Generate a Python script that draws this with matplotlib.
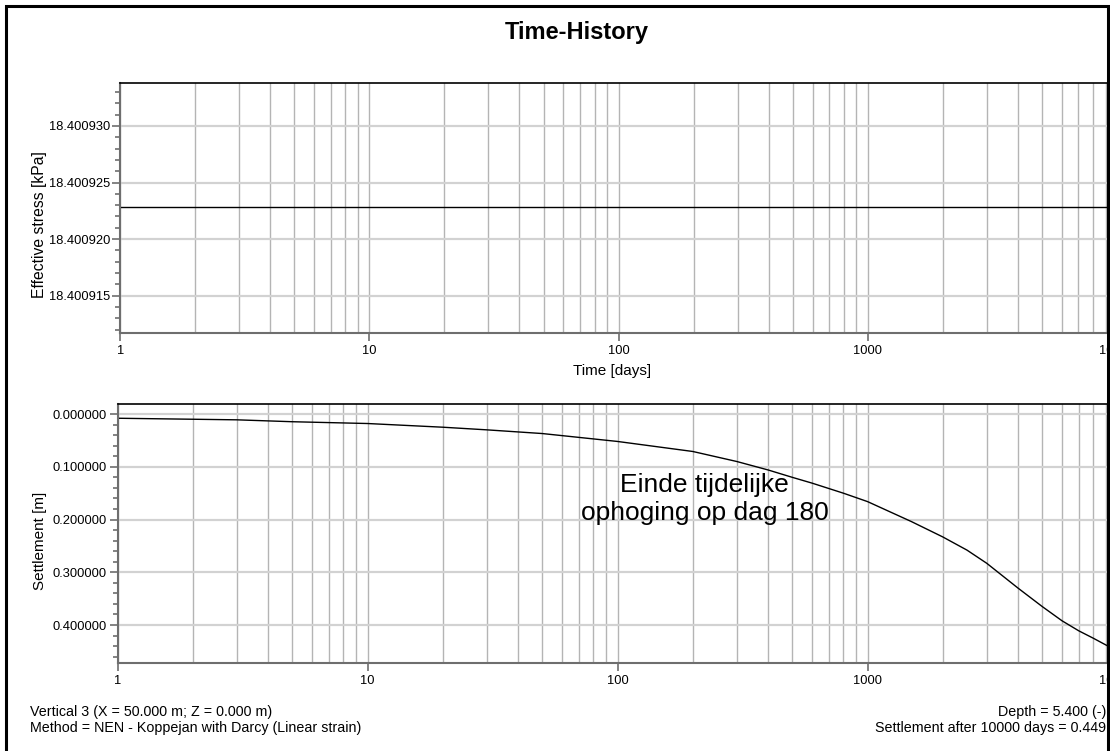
import numpy as np
import matplotlib
matplotlib.use('Agg')
import matplotlib.pyplot as plt
from matplotlib.patches import Rectangle
from matplotlib.ticker import FormatStrFormatter, MultipleLocator, LogLocator, NullFormatter

plt.rcParams['font.family'] = ['Liberation Sans', 'DejaVu Sans']

# data
stress_days = [1, 10000]
stress = [18.4009228, 18.4009228]

days = [1, 3, 5, 10, 20, 30, 50, 100, 200, 300, 400, 500, 600, 800, 1000,
        1500, 2000, 2500, 3000, 4000, 5000, 6000, 7000, 8000, 9000, 10000]
settlement = [0.008, 0.011, 0.0146, 0.018, 0.025, 0.030, 0.037, 0.052, 0.071,
              0.090, 0.106, 0.120, 0.131, 0.150, 0.166, 0.204, 0.233, 0.258,
              0.283, 0.330, 0.365, 0.392, 0.411, 0.425, 0.438, 0.449]

W, H = 1110, 751
fig = plt.figure(figsize=(W / 100, H / 100), dpi=100)


def box(l, t, r, b):
    return [l / W, 1 - b / H, (r - l) / W, (b - t) / H]


ax1 = fig.add_axes(box(120.3, 83, 1117, 333))
ax2 = fig.add_axes(box(117.5, 404, 1117.5, 663))

grid_col = '#b4b4b4'
spine_col = '#6e6e6e'

for ax in (ax1, ax2):
    ax.set_xscale('log')
    ax.set_xlim(1, 10000)
    ax.xaxis.set_major_locator(LogLocator(base=10, numticks=10))
    ax.xaxis.set_minor_locator(LogLocator(base=10, subs=np.arange(2, 10), numticks=20))
    ax.xaxis.set_minor_formatter(NullFormatter())
    ax.xaxis.set_major_formatter(FormatStrFormatter('%d'))
    ax.grid(True, axis='x', which='both', color=grid_col, lw=1.0)
    ax.grid(True, axis='y', which='major', color='#d2d2d2', lw=1.6)
    ax.tick_params(axis='x', which='major', length=5.5, width=1.2, color=spine_col,
                   labelsize=9.3, pad=3)
    ax.tick_params(axis='x', which='minor', length=0)
    ax.tick_params(axis='y', which='major', length=6, width=1.2, color=spine_col,
                   labelsize=9.3, pad=1.5)
    ax.tick_params(axis='y', which='minor', length=3.8, width=1.2, color=spine_col)
    ax.yaxis.set_major_formatter(FormatStrFormatter('%.6f'))
    ax.spines['top'].set_color('black')
    ax.spines['top'].set_linewidth(1.2)
    ax.spines['right'].set_visible(False)
    for s in ('left', 'bottom'):
        ax.spines[s].set_color(spine_col)
        ax.spines[s].set_linewidth(1.5)
    ax.set_axisbelow(True)

# effective stress
ax1.plot(stress_days, stress, color='black', lw=1)
ax1.set_ylim(18.4009117, 18.4009338)
ax1.yaxis.set_major_locator(MultipleLocator(0.000005))
ax1.yaxis.set_minor_locator(MultipleLocator(0.000001))
ax1.set_ylabel('Effective stress [kPa]', fontsize=11.3)
ax1.yaxis.set_label_coords(-0.0735, 0.432)
ax1.set_xlabel('Time [days]', fontsize=11)
ax1.xaxis.set_label_coords((612 - 120.3) / 996.7, -0.124)

# settlement
ax2.plot(days, settlement, color='black', lw=1)
ax2.set_ylim(0.472, -0.019)
ax2.yaxis.set_major_locator(MultipleLocator(0.1))
ax2.yaxis.set_minor_locator(MultipleLocator(0.02))
ax2.set_ylabel('Settlement [m]', fontsize=11)
ax2.yaxis.set_label_coords(-0.0705, 0.472)
ax2.text(223, 0.161, 'Einde tijdelijke\nophoging op dag 180', fontsize=19,
         ha='center', va='center', linespacing=1.2)

# title and footer
fig.text(577 / W, 1 - 33 / H, 'Time-History', fontsize=17, fontweight='bold',
         ha='center', va='center')
fig.text(30 / W, 1 - 712 / H, 'Vertical 3 (X = 50.000 m; Z = 0.000 m)',
         fontsize=10.3, ha='left', va='center')
fig.text(30 / W, 1 - 728 / H, 'Method = NEN - Koppejan with Darcy (Linear strain)',
         fontsize=10.3, ha='left', va='center')
fig.text(1106 / W, 1 - 712 / H, 'Depth = 5.400 (-)',
         fontsize=10.3, ha='right', va='center')
fig.text(1106 / W, 1 - 728 / H, 'Settlement after 10000 days = 0.449',
         fontsize=10.3, ha='right', va='center')

# outer frame, the right side of the chart is cut off at the frame
fig.patches.append(Rectangle((1109 / W, -0.01), 0.05, 1.02, transform=fig.transFigure,
                             facecolor='white', edgecolor='none', zorder=10))
fig.patches.append(Rectangle((6 / W, -0.01), (1102 / W), 1 - 6 / H + 0.01,
                             transform=fig.transFigure, facecolor='none',
                             edgecolor='black', lw=2.2, zorder=11))

fig.savefig('out.png', dpi=100)
